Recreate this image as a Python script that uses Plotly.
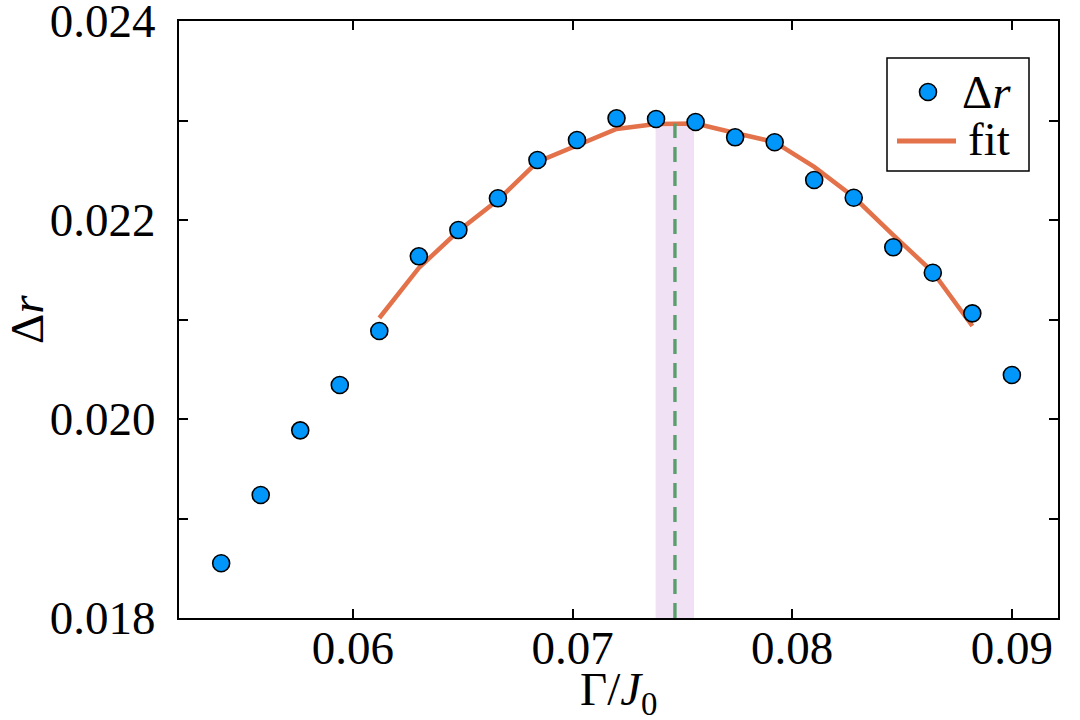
import plotly.graph_objects as go

# data
gamma = [0.0540, 0.0558, 0.0576, 0.0594, 0.0612, 0.0630, 0.0648, 0.0666, 0.0684, 0.0702, 0.0720,
         0.0738, 0.0756, 0.0774, 0.0792, 0.0810, 0.0828, 0.0846, 0.0864, 0.0882, 0.0900]
delta_r = [0.018550, 0.019236, 0.019886, 0.020342, 0.020884, 0.021635, 0.021899, 0.022218, 0.022603,
           0.022804, 0.023022, 0.023015, 0.022985, 0.022831, 0.022781, 0.022402, 0.022224, 0.021726,
           0.021470, 0.021062, 0.020442]

fit_gamma = [0.0612, 0.0630, 0.0648, 0.0666, 0.0684, 0.0702, 0.0720, 0.0738, 0.0756, 0.0774,
             0.0792, 0.0810, 0.0828, 0.0846, 0.0864, 0.0882]
fit_r = [0.021015, 0.021518, 0.021889, 0.022201, 0.022583, 0.022754, 0.022915, 0.022965, 0.022970,
         0.022874, 0.022784, 0.022533, 0.022231, 0.021849, 0.021477, 0.020935]

peak_gamma = 0.07466
peak_lo = 0.07378
peak_hi = 0.07553
peak_r = 0.02297

y_ticks = [0.018, 0.019, 0.020, 0.021, 0.022, 0.023, 0.024]
y_labels = ["0.018", "", "0.020", "", "0.022", "", "0.024"]
x_ticks = [0.06, 0.07, 0.08, 0.09]
x_labels = ["0.06", "0.07", "0.08", "0.09"]

FONT = "Liberation Serif"
FS = 47
BLUE = "#0096FA"
ORANGE = "#E3714A"

# plot area in pixels (as measured on the reference)
L, R, T, B = 179, 1058, 21, 618


def px(x):
    return (x - L) / (R - L)


def py(y):
    return (B - y) / (B - T)


y_min = y_ticks[0]

fig = go.Figure()

# uncertainty band of the peak position
fig.add_trace(go.Scatter(x=[peak_lo, peak_hi, peak_hi, peak_lo, peak_lo],
                         y=[y_min, y_min, peak_r, peak_r, y_min],
                         fill="toself", fillcolor="#F0E1F5",
                         line=dict(width=0), mode="lines",
                         showlegend=False, hoverinfo="skip"))

fig.add_trace(go.Scatter(x=fit_gamma, y=fit_r, mode="lines", name="fit",
                         line=dict(color=ORANGE, width=4.5), showlegend=False))

fig.add_trace(go.Scatter(x=[peak_gamma, peak_gamma], y=[y_min, peak_r], mode="lines",
                         line=dict(color="#5A9E6C", width=3.4, dash="15px,9px"),
                         showlegend=False, hoverinfo="skip"))

fig.add_trace(go.Scatter(x=gamma, y=delta_r, mode="markers", name="Δr",
                         marker=dict(color=BLUE, size=17,
                                     line=dict(color="black", width=1.6)),
                         showlegend=False))

# legend box drawn by hand so the spacing matches
shapes = [
    dict(type="rect", xref="paper", yref="paper", x0=px(887), x1=px(1029), y0=py(171), y1=py(58),
         line=dict(color="black", width=1.5), fillcolor="white", layer="above"),
    dict(type="circle", xref="paper", yref="paper", xsizemode="pixel", ysizemode="pixel",
         xanchor=px(928), yanchor=py(92), x0=-8.5, x1=8.5, y0=-8.5, y1=8.5,
         line=dict(color="black", width=1.6), fillcolor=BLUE, layer="above"),
    dict(type="line", xref="paper", yref="paper", x0=px(897), x1=px(956), y0=py(141), y1=py(141),
         line=dict(color=ORANGE, width=5), layer="above"),
]

annotations = [
    dict(text="Δ<i>r</i>", x=px(960), y=py(92), xref="paper", yref="paper",
         xanchor="left", yanchor="middle", showarrow=False, font=dict(size=FS)),
    dict(text="fit", x=px(966), y=py(139), xref="paper", yref="paper",
         xanchor="left", yanchor="middle", showarrow=False, font=dict(size=FS)),
    dict(text="Γ/<i>J</i><sub>0</sub>", x=0.5, y=py(692), xref="paper", yref="paper",
         xanchor="center", yanchor="middle", showarrow=False, font=dict(size=FS)),
    dict(text="Δ<i>r</i>", x=px(27), y=py(320), xref="paper", yref="paper", textangle=-90,
         xanchor="center", yanchor="middle", showarrow=False, font=dict(size=FS)),
]

fig.update_layout(
    width=1080, height=720,
    margin=dict(l=L, r=1080 - R, t=T, b=720 - B, autoexpand=False),
    paper_bgcolor="white", plot_bgcolor="white",
    font=dict(family=FONT, size=FS, color="black"),
    showlegend=False,
    shapes=shapes,
    annotations=annotations,
)

fig.update_xaxes(range=[0.05208, 0.0921], tickvals=x_ticks, ticktext=x_labels,
                 ticks="inside", ticklen=9, tickwidth=1.5, tickcolor="black",
                 ticklabelstandoff=-12, ticklabeloverflow="allow",
                 showline=True, linecolor="black", linewidth=2, mirror="ticks",
                 showgrid=False, zeroline=False)
fig.update_yaxes(range=[0.018, 0.024], tickvals=y_ticks, ticktext=y_labels,
                 ticks="inside", ticklen=9, tickwidth=1.5, tickcolor="black",
                 ticklabelstandoff=12, ticklabeloverflow="allow",
                 showline=True, linecolor="black", linewidth=2, mirror="ticks",
                 showgrid=False, zeroline=False)

# drop the default 8px page margin so the 1080x720 figure fills the window
fig.write_html("out.html", config={"displayModeBar": False},
               post_script="document.body.style.margin='0';")
